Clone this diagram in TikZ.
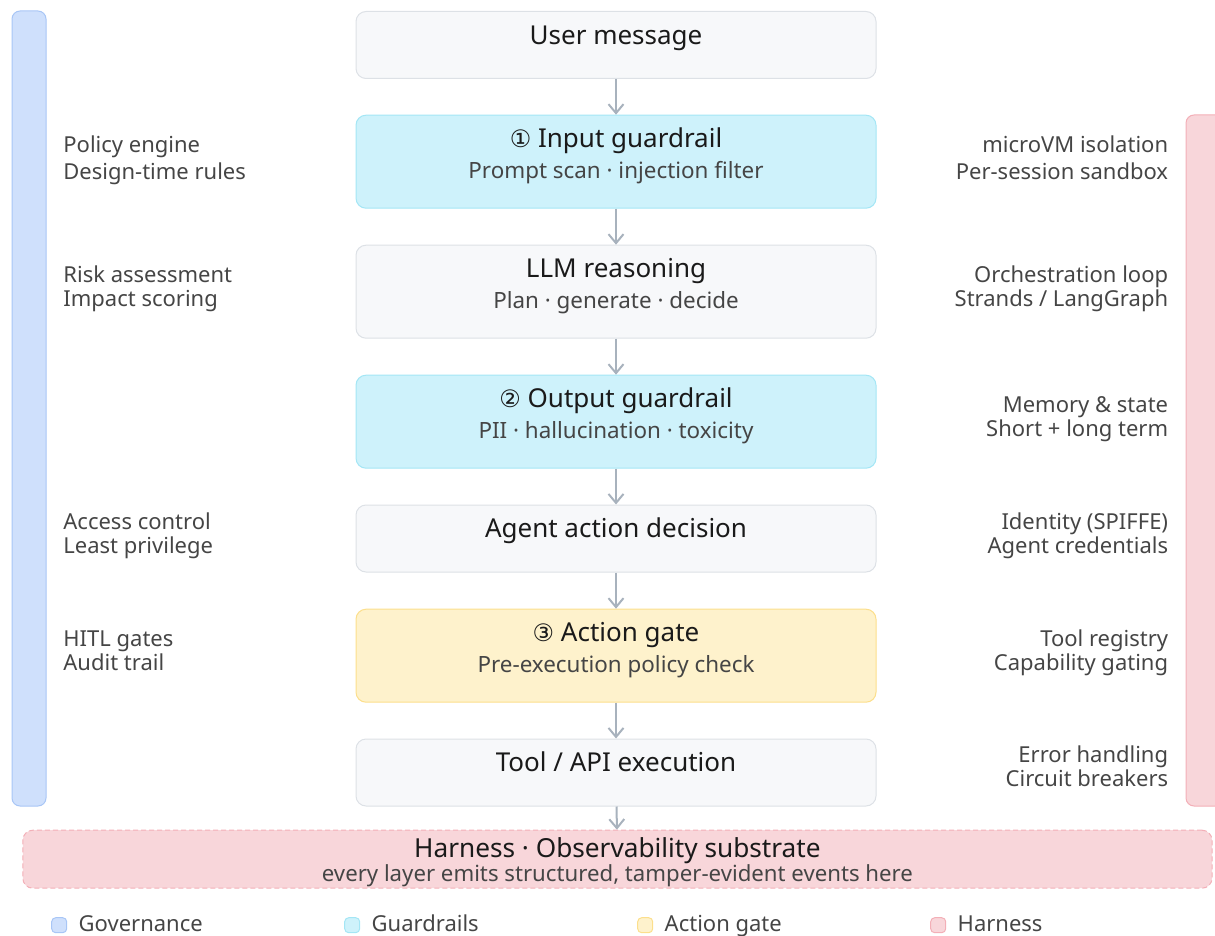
\documentclass[tikz,border=0pt]{standalone}
\usepackage{fontspec}
\setmainfont{Noto Sans}
\newfontfamily\circfont{DejaVu Sans}
\usetikzlibrary{positioning,arrows.meta,calc}
\definecolor{govC}{HTML}{CFE0FC}
\definecolor{govD}{HTML}{A8C6F6}
\definecolor{guardC}{HTML}{CEF2FB}
\definecolor{guardD}{HTML}{A4E6F5}
\definecolor{gateC}{HTML}{FEF2CC}
\definecolor{gateD}{HTML}{FCDF8C}
\definecolor{harnC}{HTML}{F8D6DA}
\definecolor{harnD}{HTML}{F3AFB7}
\definecolor{plainC}{HTML}{F7F8FA}
\definecolor{plainD}{HTML}{DDE1E6}
\definecolor{arrowC}{HTML}{A8B2BD}
\definecolor{titleC}{HTML}{1A1A1A}
\definecolor{subC}{HTML}{454545}
\tikzset{
	stage/.style={draw=plainD, fill=plainC, line width=0.5pt, rounded corners=5pt,
		minimum width=260pt, minimum height=33.5pt, inner sep=0pt},
	tall/.style={minimum height=46.5pt},
	guard/.style={draw=guardD, fill=guardC},
	gatebox/.style={draw=gateD, fill=gateC},
	bar/.style={line width=0.5pt, rounded corners=4pt, inner sep=0pt},
	title/.style={font=\fontsize{13}{15}\selectfont, text=titleC, anchor=base, inner sep=0pt},
	sub/.style={font=\fontsize{11.2}{13}\selectfont, text=subC, anchor=base, inner sep=0pt},
	side/.style={font=\fontsize{11}{12}\selectfont, text=subC, inner sep=0pt},
	leftnote/.style={side, align=left, anchor=base west},
	rightnote/.style={side, align=right, anchor=base east},
	flow/.style={-{Straight Barb[length=4.5pt,width=7.5pt]}, line width=1pt, arrowC},
	legsq/.style={line width=0.5pt, rounded corners=2pt, minimum size=7.5pt, inner sep=0pt},
	legtxt/.style={font=\fontsize{11}{13}\selectfont, text=subC, anchor=base west, inner sep=0pt},
}
\newcommand{\circnum}[1]{{\circfont\fontsize{12}{13}\selectfont #1}}

\begin{document}
\begin{tikzpicture}[x=0.5pt, y=-0.5pt]
	\useasboundingbox (0,0) rectangle (1215,936);
	
	% ================= Side bars =================
	\node[bar, draw=govD, fill=govC, minimum width=17pt, minimum height=397.5pt] (gov) at (29,408.5) {};
	\node[bar, draw=harnD, fill=harnC, minimum width=22pt, minimum height=345.5pt] (harn) at (1208,460.5) {};
	
	% ================= Pipeline =================
	\node[stage] (user) at (616,45) {};
	\node[title] at ($(user.north)+(0,33.3)$) {User message};
	
	\node[stage, tall, guard] (inp) at (616,161.7) {};
	\node[title] at ($(inp.north)+(0,32.7)$) {\circnum{①} Input guardrail};
	\node[sub] at ($(inp.north)+(0,64)$) {Prompt scan · injection filter};
	
	\node[stage, tall] (llm) at (616,291.7) {};
	\node[title] at ($(llm.north)+(0,32.7)$) {LLM reasoning};
	\node[sub] at ($(llm.north)+(0,64)$) {Plan · generate · decide};
	
	\node[stage, tall, guard] (outp) at (616,421.7) {};
	\node[title] at ($(outp.north)+(0,32.7)$) {\circnum{②} Output guardrail};
	\node[sub] at ($(outp.north)+(0,64)$) {PII · hallucination · toxicity};
	
	\node[stage] (act) at (616,538.5) {};
	\node[title] at ($(act.north)+(0,33.3)$) {Agent action decision};
	
	\node[stage, tall, gatebox] (gate) at (616,655.7) {};
	\node[title] at ($(gate.north)+(0,32.7)$) {\circnum{③} Action gate};
	\node[sub] at ($(gate.north)+(0,64)$) {Pre-execution policy check};
	
	\node[stage] (tool) at (616,772.5) {};
	\node[title] at ($(tool.north)+(0,33.3)$) {Tool / API execution};
	
	% Observability substrate
	\node[line width=0.5pt, draw=harnD, fill=harnC, dash pattern=on 2.5pt off 1.5pt,
	rounded corners=5pt, minimum width=594.6pt, minimum height=29pt, inner sep=0pt]
	(obs) at (617.4,859.2) {};
	\node[title, font=\fontsize{13.1}{15}\selectfont] at ($(obs.north)+(0,28)$)
	{Harness · Observability substrate};
	\node[sub, font=\fontsize{11.1}{13}\selectfont] at ($(obs.north)+(0,51.7)$)
	{every layer emits structured, tamper-evident events here};
	
	% Arrows
	\draw[flow] (user) -- (inp);
	\draw[flow] (inp) -- (llm);
	\draw[flow] (llm) -- (outp);
	\draw[flow] (outp) -- (act);
	\draw[flow] (act) -- (gate);
	\draw[flow] (gate) -- (tool);
	\draw[flow] (tool) -- (obs);
	
	% ================= Governance notes =================
	\node[leftnote] (g1) at (63,180) {Policy engine\\[1.5pt]Design-time rules};
	\node[leftnote] (g2) at (63,306.7) {Risk assessment\\Impact scoring};
	\node[leftnote] (g3) at (63,553.3) {Access control\\Least privilege};
	\node[leftnote] (g4) at (63,670) {HITL gates\\Audit trail};
	
	% ================= Harness notes =================
	\node[rightnote] (h1) at (1168.5,180) {microVM isolation\\[1.5pt]Per-session sandbox};
	\node[rightnote] (h2) at (1168.5,306.7) {Orchestration loop\\Strands / LangGraph};
	\node[rightnote] (h3) at (1168.5,436.3) {Memory \& state\\Short + long term};
	\node[rightnote] (h4) at (1168.5,553.3) {Identity (SPIFFE)\\Agent credentials};
	\node[rightnote] (h5) at (1168.5,670) {Tool registry\\Capability gating};
	\node[rightnote] (h6) at (1168.5,786.7) {Error handling\\Circuit breakers};
	
	% ================= Legend =================
	\foreach \x/\fc/\dc/\lab [count=\i] in {59.2/govC/govD/Governance, 352.2/guardC/guardD/Guardrails,
		645.2/gateC/gateD/Action gate, 938.2/harnC/harnD/Harness}{
		\node[legsq, draw=\dc, fill=\fc] (leg\i) at (\x,925.2) {};
		\node[legtxt] at ($(leg\i.center)+(19.1,6.5)$) {\lab};
	}
	
\end{tikzpicture}
\end{document}
